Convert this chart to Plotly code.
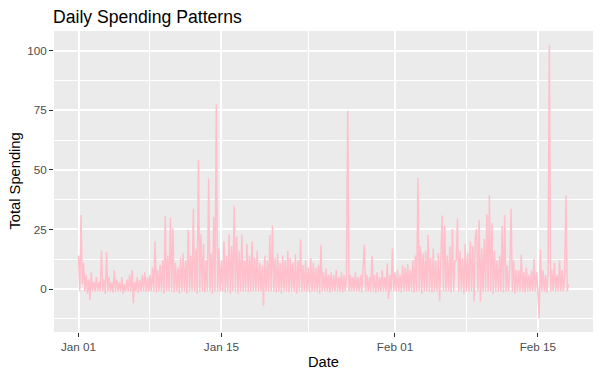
import pandas as pd
import plotly.graph_objects as go

# 3-hourly spending totals, Jan 01 00:00 .. Feb 18 00:00 (8 values per day)
week1 = [14, -1, 31, 2, 11, -1, 6, -2,
         4, -4.5, 7, -1, 3, -1, 5, -1,
         3, -1, 16, -1, 4, -2, 15.5, -1,
         5, -1, 3, -1.5, 8, -1, 4, -1,
         3, -1, 5, -2, 2, -1, 4, -1,
         6, -1, 8, -6, 3, -1, 5, -1.5,
         4, -1, 6, -1, 7, -1, 5, -1]
week2 = [6, -1, 9, -1, 20, -1.5, 8, -1,
         10, -1, 12, -2, 30.7, -1, 14, -1,
         30, -1, 25.5, -1.5, 11, -1, 9, -2,
         13, -1, 15, -1, 12, -2, 25, -1,
         14, -1, 33.7, -1, 17, -2, 54, -1,
         23, -1, 19, -1.5, 12, -1, 46.4, -1,
         15, -2, 30.3, -1, 77.4, -1, 17, -1]
week3 = [12, -1, 20, -1.5, 14, -1, 23, -2,
         18, -1, 34.9, -1, 22, -2, 16, -1,
         23, -1, 12, -1, 19, -1.5, 14, -1,
         20, -1, 13, -1, 16, -1, 11, -1,
         10, -7, 14, -1, 12, -1, 22.6, -1,
         26.7, -1, 13, -1.5, 15, -1, 11, -2,
         14, -1, 12, -1, 16, -1.5, 13, -1]
week4 = [11, -1, 14.6, -2, 12, -1, 20.8, -1,
         10, -1, 12, -1, 9, -1.5, 13, -1,
         11, -1, 9, -1, 10, -2, 18.6, -1,
         7, -1, 8.6, -1, 6, -1.5, 7, -1,
         6, -1, 8, -1, 5, -1, 7, -1.5,
         6, -1, 5, 74.9, -1, 6, -1, 5,
         -1, 7, -1, 5, -1, 6, -1.5, 7]
week5 = [18.7, -1, 6, -1, 5, -1, 13.8, -1,
         6, -1.5, 7, -1, 5, -1, 8, -1,
         5, -1, 10.6, -4.2, 6, -1, 17, -1,
         7, -1, 8, -1, 6, -1.5, 10, -1,
         9, -1, 10.5, -1, 8, -1, 12, -1.5,
         14, -1, 46.6, -1, 18, -2, 15, -1,
         16, -1, 22.6, -1, 13, -1.5, 17, -1]
week6 = [12, -1, 15, -5, 20, 30.8, -1, 26.6,
         -1, 14, -1, 18, -1.5, 25.2, -1, 12,
         12, 29.6, -1, 16, -1, 13, -2, 19,
         -1, 15, -1, 20, -1, 18, -5.3, 22,
         25.1, -1, 29, -5.3, 17, -1, 21, -1,
         31.4, -1, 39.3, -1, 27.6, -2, 16, -1,
         12, -1, 14, -1, 26.4, -1.5, 31, -1]
week7 = [10, -1, 9, 33.8, -1, 12, -2, 8,
         -1, 8, -1, 14.4, -1, 7, -1.5, 9,
         -1, 6, -1, 8, -1, 12.6, -1, 7,
         -1, -12.3, 16.5, -1, 8, -1, 6, -1.5,
         7, 102.5, -1, 8, -1, 11, -1, 6,
         -1, 12, -1, 8, -1, 6, 39.3, -1,
         2]

spending = week1 + week2 + week3 + week4 + week5 + week6 + week7
dates = pd.date_range("2024-01-01", periods=len(spending), freq="3h")

x_tick_dates = ["2024-01-01", "2024-01-15", "2024-02-01", "2024-02-15"]
x_tick_labels = ["Jan 01", "Jan 15", "Feb 01", "Feb 15"]
x_minor_dates = ["2024-01-08", "2024-01-23 12:00", "2024-02-08"]
y_ticks = [0, 25, 50, 75, 100]
y_minor = [-12.5, 12.5, 37.5, 62.5, 87.5]

t0, t1 = dates[0], dates[-1]
span = t1 - t0
xr = [t0 - span * 0.05, t1 + span * 0.05]
ymin, ymax = min(spending), max(spending)
yspan = ymax - ymin
yr = [ymin - 0.05 * yspan, ymax + 0.05 * yspan]

fig = go.Figure()
fig.add_trace(go.Scatter(x=dates, y=spending, mode="lines",
                         line=dict(color="#FFC0CB", width=1.5),
                         showlegend=False, hoverinfo="skip"))

font = "Liberation Sans, Arial, sans-serif"
fig.update_layout(
    width=600, height=377,
    margin=dict(l=54, r=7, t=31, b=45),
    paper_bgcolor="white", plot_bgcolor="#EBEBEB",
    font=dict(family=font),
    title=dict(text="Daily Spending Patterns", x=53 / 600, xanchor="left",
               xref="container", y=1 - 16.5 / 377, yref="container", yanchor="middle",
               font=dict(size=17.6, color="black", family=font)),
    xaxis=dict(range=xr, tickmode="array", tickvals=x_tick_dates, ticktext=x_tick_labels,
               showgrid=True, gridcolor="white", gridwidth=1.9,
               ticks="outside", ticklen=4, tickcolor="#333333", tickwidth=1,
               tickfont=dict(size=11.7, color="#4D4D4D"),
               zeroline=False, showline=False,
               minor=dict(tickmode="array", tickvals=x_minor_dates, showgrid=True,
                          gridcolor="white", gridwidth=0.9, ticks="")),
    yaxis=dict(range=yr, tickmode="array", tickvals=y_ticks,
               showgrid=True, gridcolor="white", gridwidth=1.9,
               ticks="outside", ticklen=4, tickcolor="#333333", tickwidth=1,
               tickfont=dict(size=11.7, color="#4D4D4D"),
               zeroline=False, showline=False,
               minor=dict(tickmode="array", tickvals=y_minor, showgrid=True,
                          gridcolor="white", gridwidth=0.9, ticks="")),
)
fig.add_annotation(text="Date", xref="paper", yref="paper", x=0.5, y=0,
                   yshift=-20, xanchor="center", yanchor="top", showarrow=False,
                   font=dict(size=14.7, color="black", family=font))
fig.add_annotation(text="Total Spending", xref="paper", yref="paper", x=0, y=0.5,
                   xshift=-30, xanchor="right", yanchor="middle", textangle=-90,
                   showarrow=False, font=dict(size=14.7, color="black", family=font))

fig.write_html("out.html", config={"displayModeBar": False},
               post_script="document.body.style.margin='0';document.body.style.padding='0';")
